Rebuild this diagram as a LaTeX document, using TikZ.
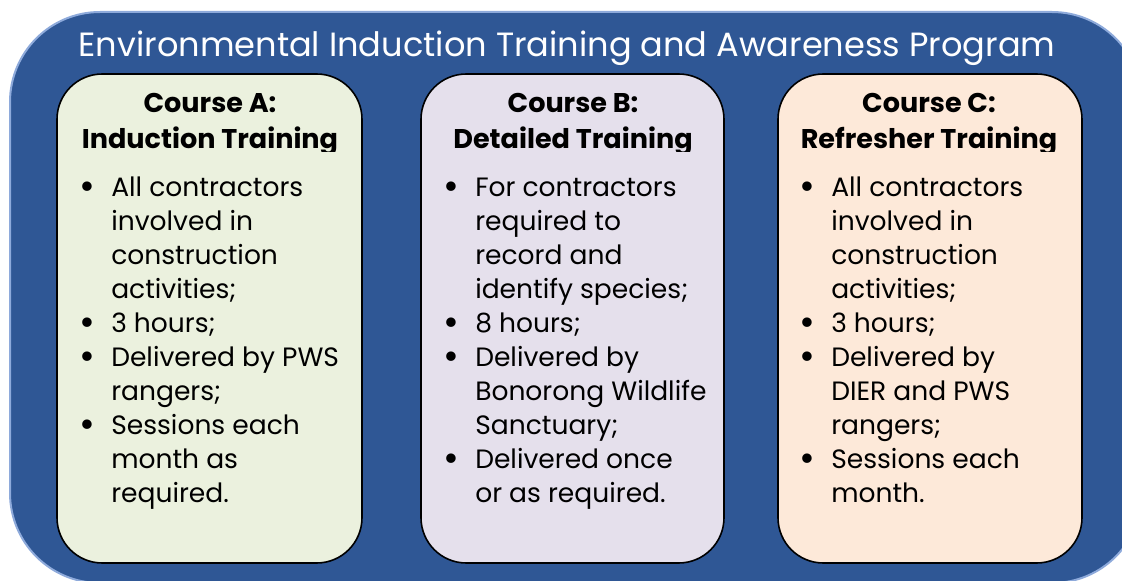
\documentclass[tikz,border=0pt]{standalone}
\usepackage{fontspec}
\setmainfont{Poppins}
\usepackage{array}
\usepackage{graphicx}
\definecolor{outerblue}{HTML}{2F5795}
\definecolor{edgeblue}{HTML}{8EAADB}
\definecolor{fillA}{HTML}{EBF1DE}
\definecolor{fillB}{HTML}{E5E0EC}
\definecolor{fillC}{HTML}{FDE9D9}
\tikzset{
  coursebox/.style={draw=black, line width=1.2pt, rounded corners=34pt},
  titletext/.style={text=white, font=\fontsize{25.2}{30}\selectfont, anchor=base},
  headtext/.style={font=\bfseries\fontsize{20.3}{27}\selectfont, anchor=base, align=center},
  bodytext/.style={anchor=base west, inner sep=0pt, font=\fontsize{19.9}{25.5}\selectfont}
}
\newcommand{\bl}{\hspace*{-3.5pt}\smash{\raisebox{-1.8pt}{\scalebox{1.45}{\textbullet}}}}
\begin{document}
\begin{tikzpicture}[x=0.75pt, y=-0.75pt]
\useasboundingbox (0,0) rectangle (1122,581);
\clip (0,0) rectangle (1122,581);
\filldraw[fill=outerblue, draw=edgeblue, line width=1.5pt, rounded corners=67.5pt] (10,12) rectangle (1142,583);
\node[titletext] (title) at (567,57) {Environmental Induction Training and Awareness Program};
\path[coursebox, fill=fillA] (57,74) rectangle (362,563);
\path[coursebox, fill=fillB] (421,74) rectangle (724,563);
\path[coursebox, fill=fillC] (778,74) rectangle (1082,563);
\begin{scope}
\clip (0,0) rectangle (1122,152);
\node[headtext] (hA) at (210,149) {Course A:\\Induction Training};
\node[headtext] (hB) at (573,149) {Course B:\\Detailed Training};
\node[headtext] (hC) at (929,149) {Course C:\\Refresher Training};
\end{scope}
\node[bodytext] (bA) at (84,197) {\begin{tabular}[t]{@{}p{20.25pt}@{}l@{}}
\bl & All contractors\\ & involved in\\ & construction\\ & activities;\\
\bl & 3 hours;\\
\bl & Delivered by PWS\\ & rangers;\\
\bl & Sessions each\\ & month as\\ & required.
\end{tabular}};
\node[bodytext] (bB) at (448,197) {\begin{tabular}[t]{@{}p{20.25pt}@{}l@{}}
\bl & For contractors\\ & required to\\ & record and\\ & identify species;\\
\bl & 8 hours;\\
\bl & Delivered by\\ & Bonorong Wildlife\\ & Sanctuary;\\
\bl & Delivered once\\ & or as required.
\end{tabular}};
\node[bodytext] (bC) at (804,197) {\begin{tabular}[t]{@{}p{20.25pt}@{}l@{}}
\bl & All contractors\\ & involved in\\ & construction\\ & activities;\\
\bl & 3 hours;\\
\bl & Delivered by\\ & DIER and PWS\\ & rangers;\\
\bl & Sessions each\\ & month.
\end{tabular}};
\end{tikzpicture}
\end{document}
